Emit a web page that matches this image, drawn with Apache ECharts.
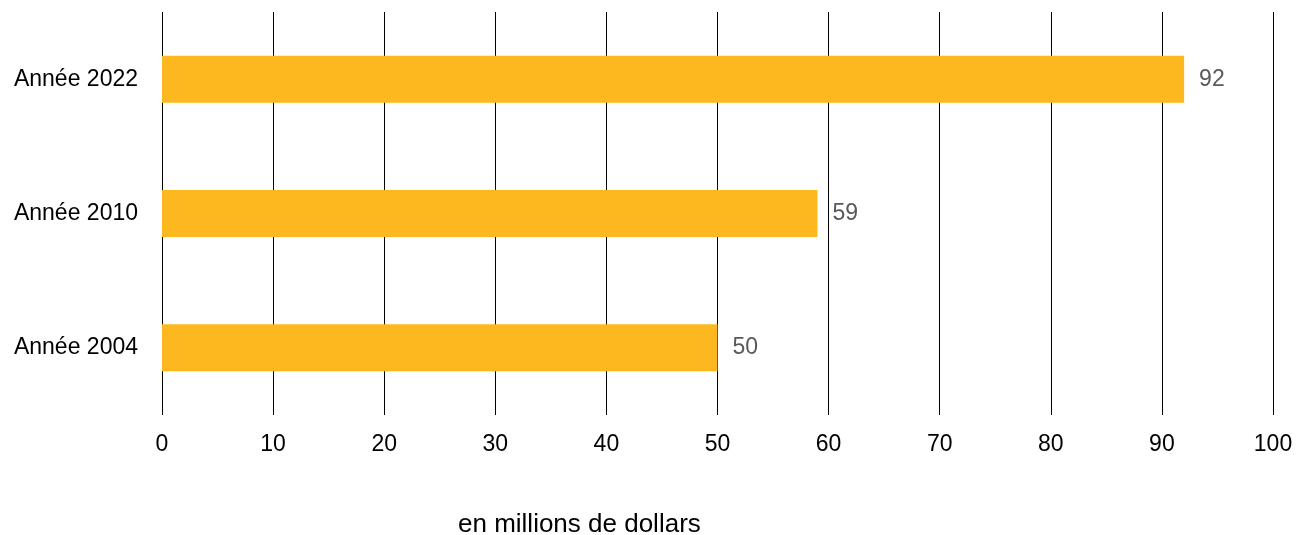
<!DOCTYPE html>
<html>
<head>
<meta charset="utf-8">
<script src="https://cdn.jsdelivr.net/npm/echarts@6/dist/echarts.min.js"></script>
<style>
  html, body { margin: 0; padding: 0; background: #fff; }
  #chart { width: 1296px; height: 535px; }
</style>
</head>
<body>
<div id="chart"></div>
<script>
// Categories from bottom to top (category axis on y starts at the bottom)
const categories = ['Année 2004', 'Année 2010', 'Année 2022'];
const values = [50, 59, 92];
const xTicks = { min: 0, max: 100, interval: 10 };
const axisTitle = 'en millions de dollars';

const font = '"Liberation Sans", Arial, sans-serif';
const chart = echarts.init(document.getElementById('chart'));

chart.setOption({
  animation: false,
  grid: { left: 162, right: 23, top: 12, bottom: 120 },
  xAxis: {
    type: 'value',
    min: xTicks.min,
    max: xTicks.max,
    interval: xTicks.interval,
    axisLine: { show: false },
    axisTick: { show: false },
    splitLine: { show: true, lineStyle: { color: '#000', width: 1 } },
    axisLabel: { color: '#000', fontSize: 23, fontFamily: font, margin: 18 }
  },
  yAxis: {
    type: 'category',
    data: categories,
    axisLine: { show: false },
    axisTick: { show: false },
    axisLabel: { color: '#000', fontSize: 23, fontFamily: font, margin: 24 }
  },
  series: [{
    type: 'bar',
    data: values,
    barWidth: '35%',
    itemStyle: { color: '#FDB71F' },
    label: {
      show: true,
      position: 'right',
      distance: 15,
      color: '#595959',
      fontSize: 23,
      fontFamily: font
    }
  }],
  graphic: [{
    type: 'text',
    left: 458,
    top: 512,
    style: { text: axisTitle, fill: '#000', fontSize: 26, fontFamily: font }
  }]
});
</script>
</body>
</html>
